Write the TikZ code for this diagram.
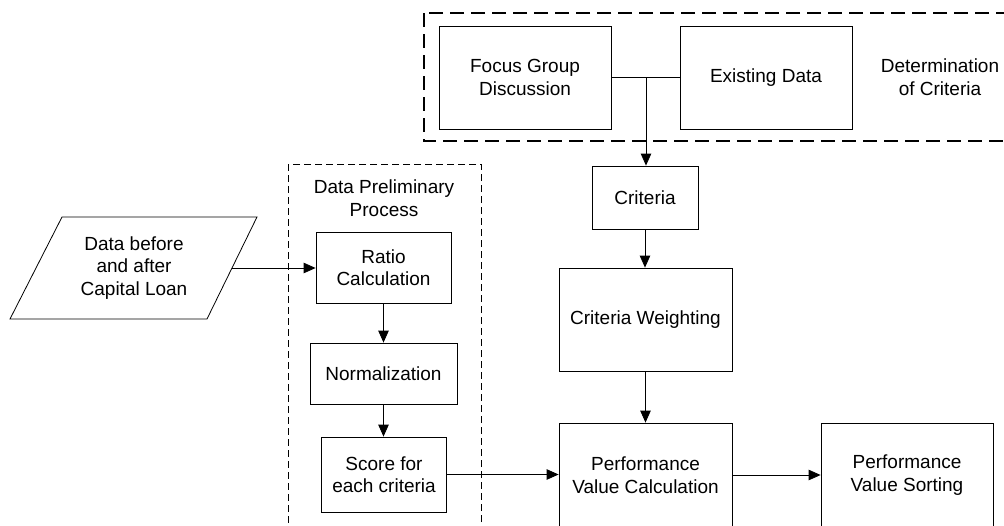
\documentclass[tikz,border=0pt]{standalone}
\usepackage{fontspec}
\setmainfont{Liberation Sans}
\usetikzlibrary{arrows.meta}
\newcommand{\fs}{\fontsize{19}{22.5}\selectfont}
\begin{document}
\begin{tikzpicture}[x=1pt,y=-1pt,
  box/.style={draw, line width=0.8pt, align=center, font=\fs, inner sep=0pt},
  lbl/.style={align=center, font=\fs, inner sep=0pt},
  line/.style={line width=0.8pt},
  arr/.style={-{Triangle[length=12pt,width=10.5pt]}, line width=0.8pt},
  bigdash/.style={line width=2pt, dash pattern=on 14pt off 7pt},
  smalldash/.style={line width=0.8pt, dash pattern=on 7pt off 4pt}]
\useasboundingbox (0,0) rectangle (1004,525);
\clip (0,0) rectangle (1004,525);
% group frames
\draw[bigdash] (424,13) rectangle (1030,141);
\draw[smalldash] (288,164) rectangle (481,560);
% top group
\node[box, minimum width=172pt, minimum height=103pt] (fgd) at (525,77.5) {Focus Group\\Discussion};
\node[box, minimum width=172pt, minimum height=103pt] (ed) at (766,77.5) {Existing Data};
\node[lbl] (det) at (940,77) {Determination\\of Criteria};
\coordinate (j) at (646,77.5);
% middle column
\node[box, minimum width=106pt, minimum height=63pt] (crit) at (645,197.5) {Criteria};
\node[box, minimum width=173pt, minimum height=103pt] (cw) at (645.5,319.5) {Criteria Weighting};
\node[box, minimum width=173pt, minimum height=104pt] (pvc) at (645.5,475) {Performance\\Value Calculation};
\node[box, minimum width=172pt, minimum height=104pt] (pvs) at (907,475) {Performance\\Value Sorting};
% preliminary process
\node[lbl] (dpp) at (384,198) {Data Preliminary\\Process};
\node[box, minimum width=135pt, minimum height=71pt] (ratio) at (383.5,267.5) {Ratio\\Calculation};
\node[box, minimum width=147pt, minimum height=61pt] (norm) at (383.5,373.5) {Normalization};
\node[box, minimum width=125pt, minimum height=75pt] (score) at (384,474.5) {Score for\\each criteria};
% input parallelogram
\draw[line] (62,217) -- (257,217) -- (207,319) -- (10,319) -- cycle;
\node[lbl] (data) at (134,268) {Data before\\and after\\Capital Loan};
\coordinate (dataE) at (232,268);
% connectors
\draw[line] (fgd.east) -- (ed.west);
\draw[arr] (j) -- (j |- crit.north);
\draw[arr] (crit.south) -- (crit.south |- cw.north);
\draw[arr] (cw.south) -- (cw.south |- pvc.north);
\draw[arr] (dataE) -- (dataE -| ratio.west);
\draw[arr] (ratio.south) -- (ratio.south |- norm.north);
\draw[arr] (norm.south) -- (norm.south |- score.north);
\draw[arr] (score.east) -- (score.east -| pvc.west);
\draw[arr] (pvc.east) -- (pvc.east -| pvs.west);
\end{tikzpicture}
\end{document}
